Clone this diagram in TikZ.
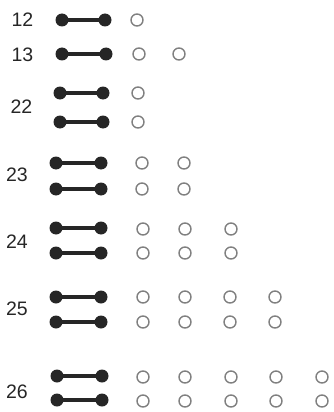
\documentclass[tikz,border=0pt]{standalone}
\usepackage{fontspec}
\setmainfont{Liberation Sans}
\newcommand\dumbbell[4]{%
  \node[bead] (#1l) at (#2,#4) {};
  \node[bead] (#1r) at (#3,#4) {};
  \draw[bar] (#1l.center) -- (#1r.center);
}
\begin{document}
\begin{tikzpicture}[x=1pt,y=-1pt,
  lbl/.style={font=\fontsize{19.5}{19.5}\selectfont, text=black!85, inner sep=0pt},
  bead/.style={circle, fill=black!85, minimum size=13pt, inner sep=0pt},
  bar/.style={line width=4.5pt, draw=black!85},
  ring/.style={circle, draw=black!50, line width=1.4pt, minimum size=12pt, inner sep=0pt}]
\useasboundingbox (0,0) rectangle (333,412);
% labels
\node[lbl] (l12) at (22.5,20) {12};
\node[lbl] (l13) at (22.5,55) {13};
\node[lbl] (l22) at (21.5,107) {22};
\node[lbl] (l23) at (17,175) {23};
\node[lbl] (l24) at (17,242) {24};
\node[lbl] (l25) at (17,309) {25};
\node[lbl] (l26) at (17,392) {26};
% dumbbells
\dumbbell{d12}{62}{105}{20}
\dumbbell{d13}{62}{106}{54}
\dumbbell{d22a}{60}{103}{93}
\dumbbell{d22b}{60}{103}{122}
\dumbbell{d23a}{56}{101}{163}
\dumbbell{d23b}{56}{101}{189}
\dumbbell{d24a}{56}{101}{228}
\dumbbell{d24b}{56}{101}{253}
\dumbbell{d25a}{56}{101}{297}
\dumbbell{d25b}{56}{101}{322}
\dumbbell{d26a}{57}{102}{376}
\dumbbell{d26b}{57}{102}{400}
% rings
\node[ring] (r12a) at (137,20) {};
\foreach \x [count=\i] in {139,179} \node[ring] (r13-\i) at (\x,54) {};
\node[ring] (r22a) at (138,93) {};
\node[ring] (r22b) at (138,122) {};
\foreach \x [count=\i] in {142,184} {
  \node[ring] (r23a-\i) at (\x,163) {};
  \node[ring] (r23b-\i) at (\x,189) {};
}
\foreach \x [count=\i] in {143,185,231} {
  \node[ring] (r24a-\i) at (\x,229) {};
  \node[ring] (r24b-\i) at (\x,253) {};
}
\foreach \x [count=\i] in {143,185,230,275} {
  \node[ring] (r25a-\i) at (\x,297) {};
  \node[ring] (r25b-\i) at (\x,322) {};
}
\foreach \x [count=\i] in {143,185,231,276,322} {
  \node[ring] (r26a-\i) at (\x,377) {};
  \node[ring] (r26b-\i) at (\x,401) {};
}
\end{tikzpicture}
\end{document}
